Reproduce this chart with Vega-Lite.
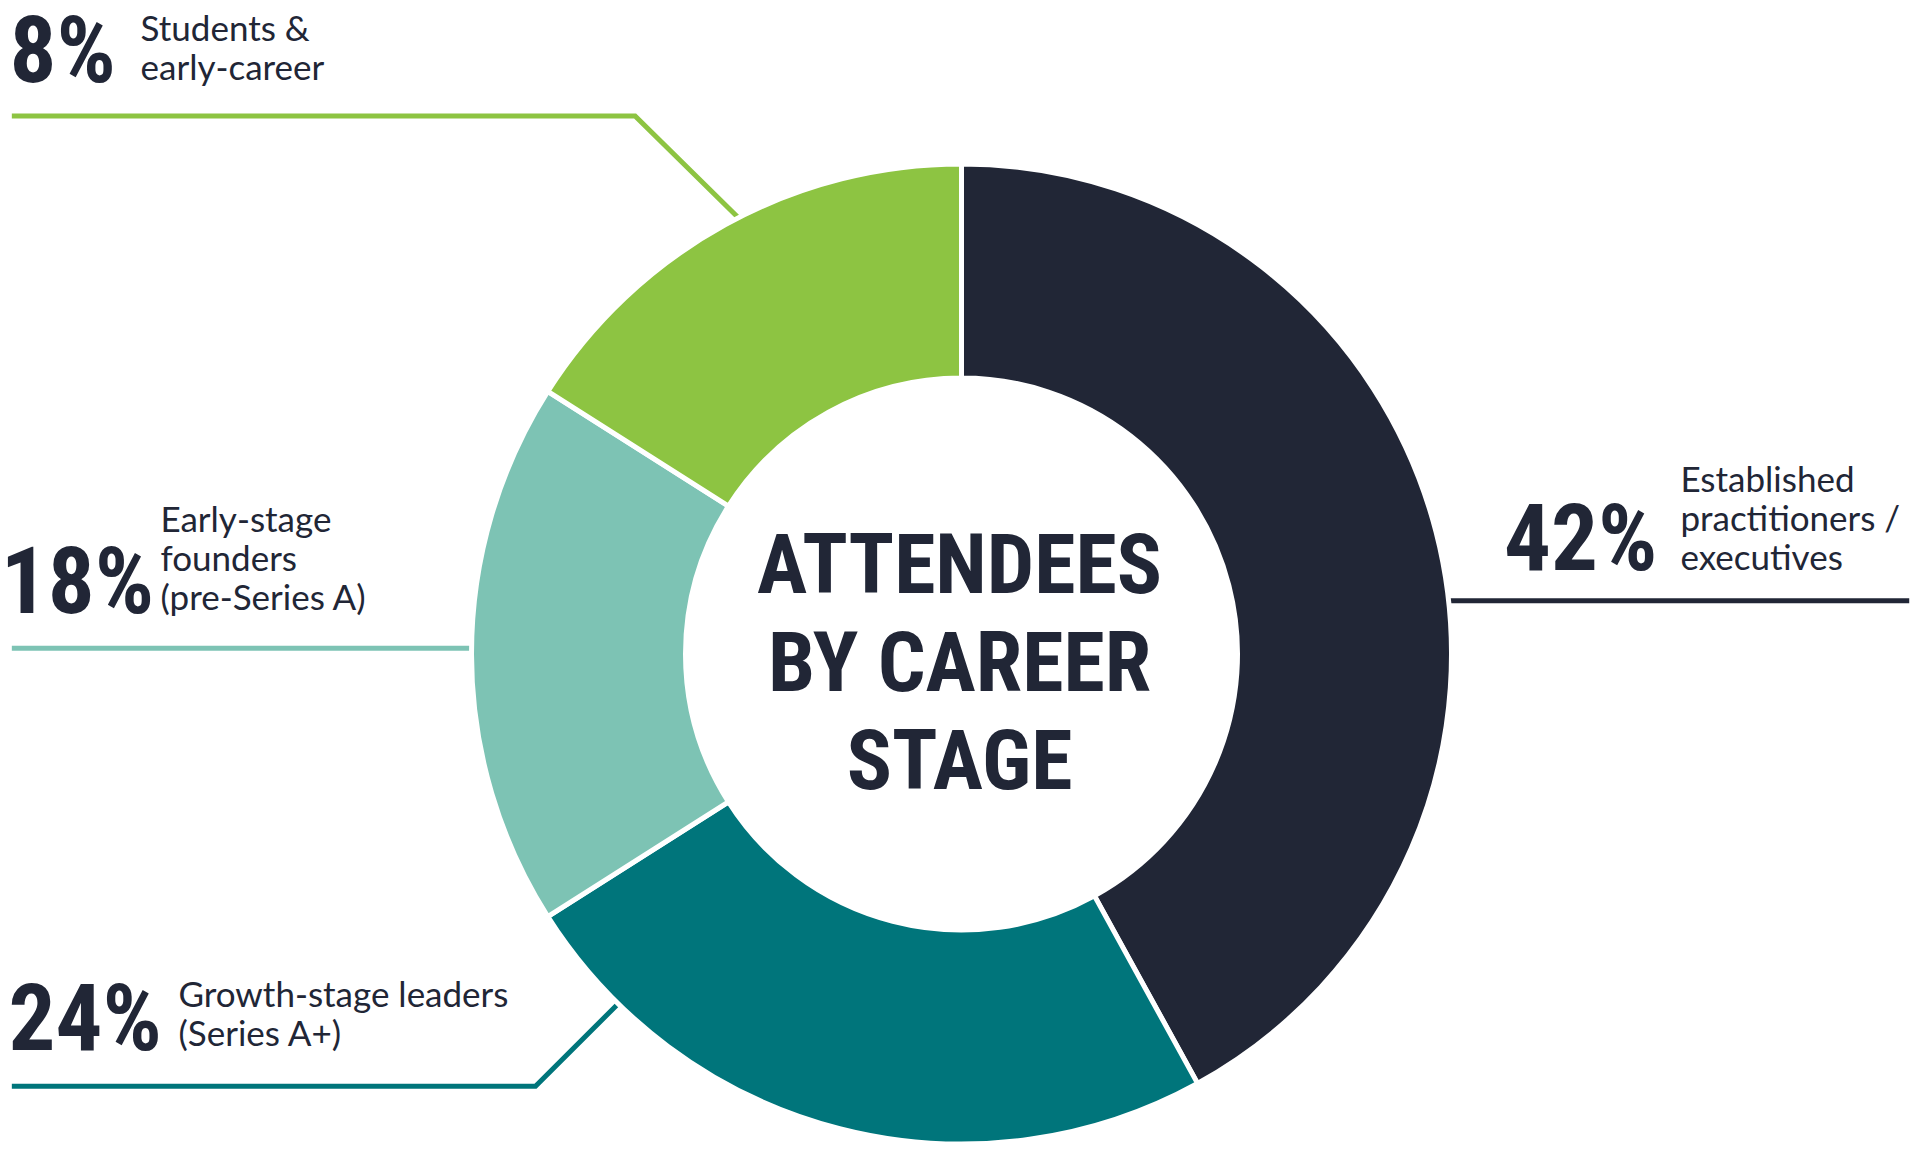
{
  "$schema": "https://vega.github.io/schema/vega-lite/v6.json",
  "width": 1920,
  "height": 1152,
  "autosize": {"type": "fit", "contains": "padding"},
  "padding": 0,
  "background": "#ffffff",
  "config": {"view": {"stroke": null}},
  "datasets": {
    "stages": [
      {"stage": "Established practitioners / executives", "share": 42, "ord": 1},
      {"stage": "Growth-stage leaders (Series A+)", "share": 24, "ord": 2},
      {"stage": "Early-stage founders (pre-Series A)", "share": 18, "ord": 3},
      {"stage": "Students & early-career", "share": 16, "ord": 4}
    ],
    "leaders": [
      {"stage": "Students & early-career", "pt": 1, "u": -1.955, "v": 1.109},
      {"stage": "Students & early-career", "pt": 2, "u": -0.672, "v": 1.109},
      {"stage": "Students & early-career", "pt": 3, "u": -0.441, "v": 0.881},
      {"stage": "Early-stage founders (pre-Series A)", "pt": 1, "u": -1.955, "v": 0.012},
      {"stage": "Early-stage founders (pre-Series A)", "pt": 2, "u": -0.99, "v": 0.012},
      {"stage": "Growth-stage leaders (Series A+)", "pt": 1, "u": -1.955, "v": -0.891},
      {"stage": "Growth-stage leaders (Series A+)", "pt": 2, "u": -0.877, "v": -0.891},
      {"stage": "Growth-stage leaders (Series A+)", "pt": 3, "u": -0.699, "v": -0.713},
      {"stage": "Established practitioners / executives", "pt": 1, "u": 0.985, "v": 0.11},
      {"stage": "Established practitioners / executives", "pt": 2, "u": 1.951, "v": 0.11}
    ],
    "labels": [
      {"pct": "8%", "text": "Students &\nearly-career", "pu": -1.96, "pv": 1.18, "tu": -1.69, "tv": 1.264},
      {"pct": "18%", "text": "Early-stage\nfounders\n(pre-Series A)", "pu": -1.978, "pv": 0.084, "tu": -1.649, "tv": 0.252},
      {"pct": "24%", "text": "Growth-stage leaders\n(Series A+)", "pu": -1.962, "pv": -0.816, "tu": -1.612, "tv": -0.727},
      {"pct": "42%", "text": "Established\npractitioners /\nexecutives", "pu": 1.117, "pv": 0.174, "tu": 1.48, "tv": 0.334}
    ],
    "title": [
      {"text": "ATTENDEES\nBY CAREER\nSTAGE", "u": -0.004, "v": 0.125}
    ]
  },
  "resolve": {"scale": {"x": "shared", "y": "shared", "color": "shared"}},
  "layer": [
    {
      "data": {"name": "leaders"},
      "mark": {"type": "line", "strokeWidth": 5, "strokeJoin": "miter", "strokeCap": "butt"},
      "encoding": {
        "x": {"field": "u", "type": "quantitative", "scale": {"domain": [-1.967, 1.967], "nice": false, "zero": false}, "axis": null},
        "y": {"field": "v", "type": "quantitative", "scale": {"domain": [-1.012, 1.348], "nice": false, "zero": false}, "axis": null},
        "color": {
          "field": "stage",
          "type": "nominal",
          "scale": {
            "domain": ["Established practitioners / executives", "Growth-stage leaders (Series A+)", "Early-stage founders (pre-Series A)", "Students & early-career"],
            "range": ["#212636", "#00757b", "#7dc3b4", "#8dc442"]
          },
          "legend": null
        },
        "detail": {"field": "stage"},
        "order": {"field": "pt"}
      }
    },
    {
      "data": {"name": "stages"},
      "mark": {"type": "arc", "outerRadius": 490, "innerRadius": 276, "stroke": "#ffffff", "strokeWidth": 5},
      "encoding": {
        "x": {"datum": 0, "type": "quantitative"},
        "y": {"datum": 0, "type": "quantitative"},
        "theta": {"field": "share", "type": "quantitative", "stack": true},
        "order": {"field": "ord"},
        "color": {"field": "stage", "type": "nominal", "legend": null}
      }
    },
    {
      "data": {"name": "labels"},
      "mark": {"type": "text", "align": "left", "baseline": "alphabetic", "font": "Roboto Condensed", "fontWeight": "bold", "fontSize": 93, "color": "#212636"},
      "encoding": {
        "x": {"field": "pu", "type": "quantitative"},
        "y": {"field": "pv", "type": "quantitative"},
        "text": {"field": "pct"}
      }
    },
    {
      "data": {"name": "labels"},
      "mark": {"type": "text", "align": "left", "baseline": "alphabetic", "font": "Lato", "fontSize": 35, "lineHeight": 39, "lineBreak": "\n", "color": "#212636"},
      "encoding": {
        "x": {"field": "tu", "type": "quantitative"},
        "y": {"field": "tv", "type": "quantitative"},
        "text": {"field": "text"}
      }
    },
    {
      "data": {"name": "title"},
      "mark": {"type": "text", "align": "center", "baseline": "alphabetic", "font": "Roboto Condensed", "fontWeight": "bold", "fontSize": 84, "lineHeight": 98, "lineBreak": "\n", "color": "#212636"},
      "encoding": {
        "x": {"field": "u", "type": "quantitative"},
        "y": {"field": "v", "type": "quantitative"},
        "text": {"field": "text"}
      }
    }
  ]
}
